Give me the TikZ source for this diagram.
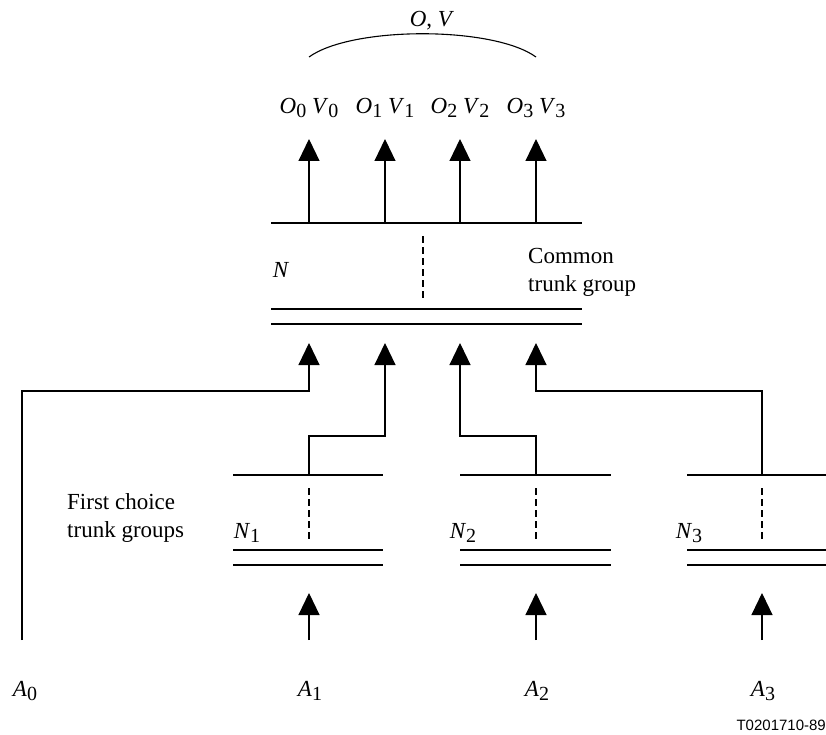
\documentclass[tikz,border=0pt]{standalone}
\usepackage{fontspec}
\setmainfont{Liberation Serif}
\newfontfamily\figfont{Liberation Sans}
\usetikzlibrary{arrows.meta}
\newcommand{\idx}[2]{\textit{#1}\raisebox{-0.35ex}{\fontsize{20pt}{20pt}\selectfont #2}}
\tikzset{
  trunk/.style={line width=1.1pt},
  grpdash/.style={line width=1.1pt, dash pattern=on 7pt off 4pt},
  flow/.style={line width=1.1pt, -{Triangle[width=21pt,length=22pt]}},
  lbl/.style={inner sep=0pt, font=\fontsize{23pt}{28pt}\selectfont}
}

\begin{document}
\begin{tikzpicture}[x=1pt, y=-1pt]%
\useasboundingbox (0,0) rectangle (826,735);%
% common trunk group
\node[lbl] (ov) at (432,21) {\textit{O}, \textit{V}};%
\draw[trunk] (309,57) .. controls (352,26) and (493,26) .. (536,57);%
\node[lbl] (ov0) at (309,108) {\idx{O}{0} \idx{V}{0}};%
\node[lbl] (ov1) at (385,108) {\idx{O}{1} \idx{V}{1}};%
\node[lbl] (ov2) at (460,108) {\idx{O}{2} \idx{V}{2}};%
\node[lbl] (ov3) at (536,108) {\idx{O}{3} \idx{V}{3}};%
\coordinate (out0) at (309,139);%
\coordinate (out1) at (385,139);%
\coordinate (out2) at (460,139);%
\coordinate (out3) at (536,139);%
\draw[trunk] (271,223) -- (582,223);%
\draw[grpdash] (423,236) -- (423,298);%
\draw[trunk] (271,309) -- (582,309);%
\draw[trunk] (271,324) -- (582,324);%
\node[lbl] (n) at (281,270) {\textit{N}};%
\node[lbl, anchor=west, align=left] (common) at (528,272) {Common\\trunk group};%
\draw[flow] (309,223) -- (out0);%
\draw[flow] (385,223) -- (out1);%
\draw[flow] (460,223) -- (out2);%
\draw[flow] (536,223) -- (out3);%
% inputs of the common trunk group
\coordinate (in0) at (309,343);%
\coordinate (in1) at (385,343);%
\coordinate (in2) at (460,343);%
\coordinate (in3) at (536,343);%
% first choice trunk groups
\node[lbl, anchor=west, align=left] (first) at (67,518) {First choice\\trunk groups};%
\draw[trunk] (233,475) -- (383,475);%
\draw[grpdash] (309,488) -- (309,540);%
\draw[trunk] (233,550) -- (383,550);%
\draw[trunk] (233,565) -- (383,565);%
\node[lbl] (n1) at (247,533) {\idx{N}{1}};%
\draw[trunk] (460,475) -- (611,475);%
\draw[grpdash] (536,488) -- (536,540);%
\draw[trunk] (460,550) -- (611,550);%
\draw[trunk] (460,565) -- (611,565);%
\node[lbl] (n2) at (463,533) {\idx{N}{2}};%
\draw[trunk] (687,475) -- (826,475);%
\draw[grpdash] (762,488) -- (762,540);%
\draw[trunk] (687,550) -- (826,550);%
\draw[trunk] (687,565) -- (826,565);%
\node[lbl] (n3) at (689,533) {\idx{N}{3}};%
\coordinate (g1) at (309,475);%
\coordinate (g2) at (536,475);%
\coordinate (g3) at (762,475);%
% offered traffic
\coordinate (a0) at (22,640);%
\coordinate (a1) at (309,640);%
\coordinate (a2) at (536,640);%
\coordinate (a3) at (762,640);%
\draw[flow] (a0) |- (309,391) -- (in0);%
\draw[flow] (g1) -- (309,436) -| (in1);%
\draw[flow] (g2) -- (536,436) -| (in2);%
\draw[flow] (g3) -- (762,391) -| (in3);%
\draw[flow] (a1) -- (309,593);%
\draw[flow] (a2) -- (536,593);%
\draw[flow] (a3) -- (762,593);%
\node[lbl] (la0) at (25,691) {\idx{A}{0}};%
\node[lbl] (la1) at (310,691) {\idx{A}{1}};%
\node[lbl] (la2) at (537,691) {\idx{A}{2}};%
\node[lbl] (la3) at (763,691) {\idx{A}{3}};%
\node[inner sep=0pt, anchor=east] (code) at (826,725) {\figfont\fontsize{15pt}{15pt}\selectfont T0201710-89};%
\end{tikzpicture}
\end{document}
